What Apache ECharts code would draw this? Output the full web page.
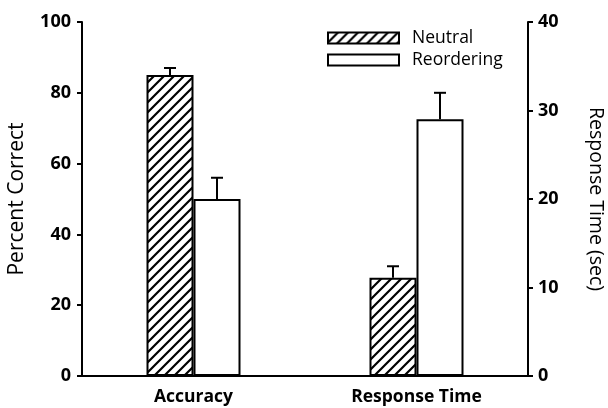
<!DOCTYPE html>
<html><head><meta charset="utf-8">
<script src="https://cdn.jsdelivr.net/npm/echarts@6/dist/echarts.min.js"></script>
<style>html,body{margin:0;padding:0;background:#fff}#c{width:608px;height:408px}</style>
</head><body><div id="c"></div>
<script>
const categories = ['Accuracy', 'Response Time'];
const seriesNames = ['Neutral', 'Reordering'];
const accuracyValues = [85, 50];      // percent correct (left axis)
const accuracyErrors = [2, 6];
const rtValues = [11.1, 29];          // seconds (right axis)
const rtErrors = [1.3, 3];
const leftTicks = [0, 20, 40, 60, 80, 100];
const rightTicks = [0, 10, 20, 30, 40];

const FONT = 'Open Sans';
function hatch() {
  const s = 10, cv = document.createElement('canvas');
  cv.width = s; cv.height = s;
  const g = cv.getContext('2d');
  g.fillStyle = '#fff'; g.fillRect(0, 0, s, s);
  g.strokeStyle = '#000'; g.lineWidth = 2.2;
  g.beginPath();
  g.moveTo(-2, s + 2); g.lineTo(s + 2, -2);
  g.moveTo(-2, 2); g.lineTo(2, -2);
  g.moveTo(s - 2, s + 2); g.lineTo(s + 2, s - 2);
  g.stroke();
  return cv;
}
const hatchFill = { image: hatch(), repeat: 'repeat' };
const styles = [
  { color: hatchFill, borderColor: '#000', borderWidth: 2 },
  { color: '#fff', borderColor: '#000', borderWidth: 2 }
];
const BW = 47;

function errRender(params, api) {
  const cat = api.value(0), v = api.value(1), e = api.value(2), side = api.value(3);
  const base = api.coord([cat, v]);
  const top = api.coord([cat, v + e]);
  const x = base[0] + side * BW / 2;
  const st = { stroke: '#000', lineWidth: 2 };
  return { type: 'group', children: [
    { type: 'line', shape: { x1: x, y1: base[1], x2: x, y2: top[1] }, style: st },
    { type: 'line', shape: { x1: x - 6, y1: top[1], x2: x + 6, y2: top[1] }, style: st }
  ]};
}
function errData(catIdx, vals, errs) {
  return vals.map((v, i) => [catIdx, v, errs[i], i === 0 ? -1 : 1]);
}
function blankExcept(idx, v) { return categories.map((c, i) => i === idx ? v : '-'); }

const axisLabel = { color: '#000', fontFamily: FONT, fontWeight: 'bold', fontSize: 18 };
const series = [];
seriesNames.forEach((n, i) => {
  series.push({ name: n, type: 'bar', xAxisIndex: 0, yAxisIndex: 0, barWidth: BW, barGap: '0%',
    itemStyle: styles[i], data: blankExcept(0, accuracyValues[i]) });
});
seriesNames.forEach((n, i) => {
  series.push({ name: n, type: 'bar', xAxisIndex: 1, yAxisIndex: 1, barWidth: BW, barGap: '0%',
    itemStyle: styles[i], data: blankExcept(1, rtValues[i]) });
});
series.push({ type: 'custom', xAxisIndex: 0, yAxisIndex: 0, z: 5, renderItem: errRender,
  data: errData(0, accuracyValues, accuracyErrors) });
series.push({ type: 'custom', xAxisIndex: 1, yAxisIndex: 1, z: 5, renderItem: errRender,
  data: errData(1, rtValues, rtErrors) });

const chart = echarts.init(document.getElementById('c'), null, { renderer: 'canvas' });
chart.setOption({
  animation: false,
  backgroundColor: '#fff',
  grid: { left: 82, right: 80, top: 22, bottom: 32, containLabel: false, outerBoundsMode: 'none' },
  legend: {
    data: seriesNames, orient: 'vertical', left: 327, top: 29, padding: 0,
    itemWidth: 71, itemHeight: 11, itemGap: 4, icon: 'rect',
    textStyle: { color: '#000', fontFamily: FONT, fontSize: 17.5, padding: [0, 0, 0, 8] }
  },
  xAxis: [
    { type: 'category', data: categories,
      axisLine: { lineStyle: { color: '#000', width: 2 } },
      axisTick: { alignWithLabel: true, length: 5, lineStyle: { color: '#000', width: 2 } },
      axisLabel: Object.assign({}, axisLabel, { fontSize: 17.5, margin: 12 }) },
    { type: 'category', data: categories, show: false }
  ],
  yAxis: [
    { type: 'value', min: leftTicks[0], max: leftTicks[leftTicks.length - 1], interval: 20,
      name: 'Percent Correct', nameLocation: 'middle', nameRotate: 90, nameGap: 54,
      nameTextStyle: { color: '#000', fontFamily: FONT, fontSize: 21 },
      splitLine: { show: false },
      axisLine: { show: true, lineStyle: { color: '#000', width: 2 } },
      axisTick: { show: true, length: 5, lineStyle: { color: '#000', width: 2 } },
      axisLabel: Object.assign({}, axisLabel, { margin: 11 }) },
    { type: 'value', min: rightTicks[0], max: rightTicks[rightTicks.length - 1], interval: 10,
      position: 'right',
      name: 'Response Time (sec)', nameLocation: 'middle', nameRotate: -90, nameGap: 58,
      nameTextStyle: { color: '#000', fontFamily: FONT, fontSize: 19.5 },
      splitLine: { show: false },
      axisLine: { show: true, lineStyle: { color: '#000', width: 2 } },
      axisTick: { show: true, length: 5, lineStyle: { color: '#000', width: 2 } },
      axisLabel: Object.assign({}, axisLabel, { margin: 10 }) }
  ],
  series: series
});
</script></body></html>
